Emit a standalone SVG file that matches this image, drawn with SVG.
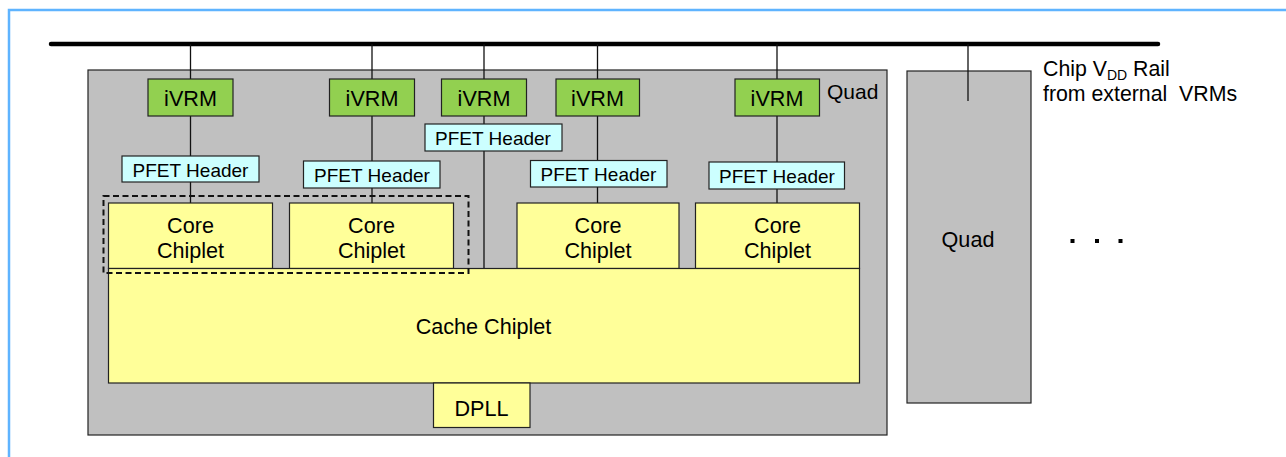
<svg xmlns="http://www.w3.org/2000/svg" width="1286" height="457" viewBox="0 0 1286 457">
<style>
text{font-family:"Liberation Sans",Arial,sans-serif;fill:#000;}
.t21{font-size:21.6px;text-anchor:middle;}
.t19{font-size:19px;text-anchor:middle;}
.quad{fill:#c0c0c0;stroke:#222;stroke-width:1.2;}
.ivrm{fill:#92d050;stroke:#222;stroke-width:1.2;}
.pfet{fill:#ccffff;stroke:#222;stroke-width:1.2;}
.chip{fill:#ffff99;stroke:#222;stroke-width:1.2;}
.wire{stroke:#111;stroke-width:1.3;fill:none;}
</style>
<rect x="9" y="10" width="1300" height="470" fill="#fff" stroke="#5fb4ff" stroke-width="2.5"/>
<line x1="51" y1="44" x2="1158" y2="44" stroke="#000" stroke-width="4.5" stroke-linecap="round"/>
<g id="quad1"><rect class="quad" x="88" y="70" width="799" height="365"/><text x="827" y="99" style="font-size:21px">Quad</text></g>
<g id="quad2"><rect class="quad" x="907" y="71" width="124" height="332"/><text class="t21" x="968" y="247">Quad</text></g>
<g id="connectors">
<line class="wire" x1="190.5" y1="44" x2="190.5" y2="203"/>
<line class="wire" x1="372" y1="44" x2="372" y2="203"/>
<line class="wire" x1="484" y1="44" x2="484" y2="268"/>
<line class="wire" x1="597.5" y1="44" x2="597.5" y2="203"/>
<line class="wire" x1="777" y1="44" x2="777" y2="203"/>
<line class="wire" x1="968" y1="44" x2="968" y2="101"/>
</g>
<g id="ivrm1"><rect class="ivrm" x="148" y="79" width="85" height="37"/><text class="t21" x="190.5" y="106">iVRM</text></g>
<g id="ivrm2"><rect class="ivrm" x="329.5" y="79" width="85" height="37"/><text class="t21" x="372" y="106">iVRM</text></g>
<g id="ivrm3"><rect class="ivrm" x="441.5" y="79" width="85" height="37"/><text class="t21" x="484" y="106">iVRM</text></g>
<g id="ivrm4"><rect class="ivrm" x="556" y="79" width="83.5" height="37"/><text class="t21" x="597.5" y="106">iVRM</text></g>
<g id="ivrm5"><rect class="ivrm" x="735" y="79" width="84.5" height="37"/><text class="t21" x="777" y="106">iVRM</text></g>
<g id="pfet1"><rect class="pfet" x="122" y="156" width="137" height="26"/><text class="t19" x="190.5" y="176.5">PFET Header</text></g>
<g id="pfet2"><rect class="pfet" x="303.5" y="161" width="136.5" height="27"/><text class="t19" x="372" y="181.5">PFET Header</text></g>
<g id="pfet3"><rect class="pfet" x="425" y="124" width="137" height="27"/><text class="t19" x="493" y="144.5">PFET Header</text></g>
<g id="pfet4"><rect class="pfet" x="530.5" y="160.5" width="136.5" height="26.5"/><text class="t19" x="598.5" y="181">PFET Header</text></g>
<g id="pfet5"><rect class="pfet" x="709" y="162" width="135.5" height="27"/><text class="t19" x="777" y="183">PFET Header</text></g>
<g id="core1"><rect class="chip" x="108.5" y="203" width="164" height="65.5"/><text class="t21" x="190.5" y="233">Core</text><text class="t21" x="190.5" y="258">Chiplet</text></g>
<g id="core2"><rect class="chip" x="289.5" y="203" width="164" height="65.5"/><text class="t21" x="371.5" y="233">Core</text><text class="t21" x="371.5" y="258">Chiplet</text></g>
<g id="core3"><rect class="chip" x="517" y="203" width="162" height="65.5"/><text class="t21" x="598" y="233">Core</text><text class="t21" x="598" y="258">Chiplet</text></g>
<g id="core4"><rect class="chip" x="695.5" y="203" width="164" height="65.5"/><text class="t21" x="777.5" y="233">Core</text><text class="t21" x="777.5" y="258">Chiplet</text></g>
<g id="cache"><rect class="chip" x="108.5" y="268.5" width="751" height="114.5"/><text class="t21" x="483.5" y="333.5">Cache Chiplet</text></g>
<g id="dpll"><rect class="chip" x="433.5" y="383" width="96.5" height="44.5"/><text class="t21" x="481.5" y="415.5">DPLL</text></g>
<g id="group"><rect x="103.5" y="196" width="365" height="77" fill="none" stroke="#111" stroke-width="2" stroke-dasharray="6,3.5"/></g>
<g id="rail-label">
<text x="1043" y="76" style="font-size:21.3px">Chip V<tspan dy="3.5" style="font-size:14px">DD</tspan><tspan dy="-3.5"> Rail</tspan></text>
<text x="1043" y="100.5" style="font-size:21.3px" xml:space="preserve">from external  VRMs</text>
</g>
<g id="dots" fill="#000"><rect x="1070.5" y="239" width="4" height="4"/><rect x="1095" y="239" width="4" height="4"/><rect x="1118.5" y="239" width="4" height="4"/></g>
</svg>
